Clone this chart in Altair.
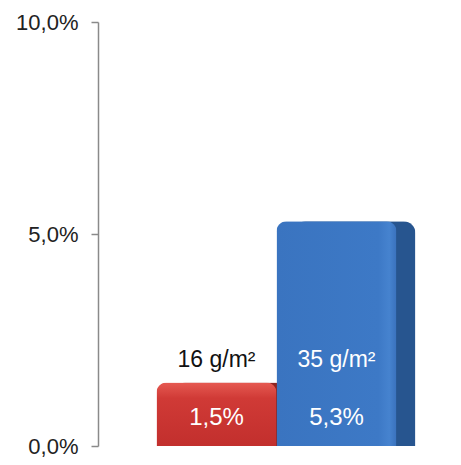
import altair as alt
import pandas as pd

categories = ["16 g/m²", "35 g/m²"]
values = [0.015, 0.053]
pct_labels = ["1,5%", "5,3%"]

df = pd.DataFrame({"cat": categories, "value": values, "pct": pct_labels})

xenc = alt.X("cat:N", axis=None, sort=categories,
             scale=alt.Scale(paddingInner=0, paddingOuter=0.4875))
yenc = alt.Y("value:Q", title=None,
             scale=alt.Scale(domain=[0, 0.1], nice=False),
             axis=alt.Axis(values=[0, 0.05, 0.1], grid=False,
                           labelExpr="replace(format(datum.value, '.1%'), '.', ',')",
                           labelFont="Liberation Sans", labelFontSize=22,
                           labelColor="#222222", labelPadding=13,
                           domainColor="#8a8a8a", domainWidth=1.5,
                           tickColor="#8a8a8a", tickWidth=1.5, tickSize=7))

base = alt.Chart(df)

side = base.mark_bar(xOffset=19, cornerRadiusTopLeft=10, cornerRadiusTopRight=12).encode(
    x=xenc, y=yenc,
    color=alt.Color("cat:N", legend=None, sort=categories,
                    scale=alt.Scale(domain=categories, range=["#8e2420", "#27558f"])),
)

red_grad = alt.Gradient(gradient="linear", x1=0, x2=0, y1=0, y2=1,
                        stops=[alt.GradientStop(color="#e65a52", offset=0),
                               alt.GradientStop(color="#d03a36", offset=0.25),
                               alt.GradientStop(color="#c22f2d", offset=1)])
blue_grad = alt.Gradient(gradient="linear", x1=0, x2=1, y1=0, y2=0,
                         stops=[alt.GradientStop(color="#3a74c0", offset=0),
                                alt.GradientStop(color="#3d79c6", offset=0.85),
                                alt.GradientStop(color="#4683cf", offset=0.94),
                                alt.GradientStop(color="#3a72bd", offset=1)])

red_front = base.mark_bar(color=red_grad, cornerRadiusTopLeft=10, cornerRadiusTopRight=10).encode(
    x=xenc, y=yenc).transform_filter(alt.datum.cat == categories[0])
blue_front = base.mark_bar(color=blue_grad, cornerRadiusTopLeft=10, cornerRadiusTopRight=10).encode(
    x=xenc, y=yenc).transform_filter(alt.datum.cat == categories[1])

pct_text = base.mark_text(font="Liberation Sans", fontSize=24, color="white",
                          baseline="middle", dy=-28).encode(
    x=xenc, y=alt.datum(0), text="pct:N")

cat_text = base.mark_text(font="Liberation Sans", fontSize=23,
                          baseline="middle", dy=-86).encode(
    x=xenc, y=alt.datum(0), text="cat:N",
    color=alt.condition(alt.datum.cat == categories[1], alt.value("white"), alt.value("#111111")))

chart = alt.layer(side.transform_filter(alt.datum.cat == categories[0]), red_front,
                  side.transform_filter(alt.datum.cat == categories[1]), blue_front,
                  pct_text, cat_text).properties(
    width=357, height=424,
    autosize=alt.AutoSizeParams(type="none"),
    padding={"left": 98, "top": 22, "right": 6, "bottom": 19},
    background="white",
).configure_view(stroke=None)

chart.save("out.html", embed_options={"renderer": "svg", "actions": False})
